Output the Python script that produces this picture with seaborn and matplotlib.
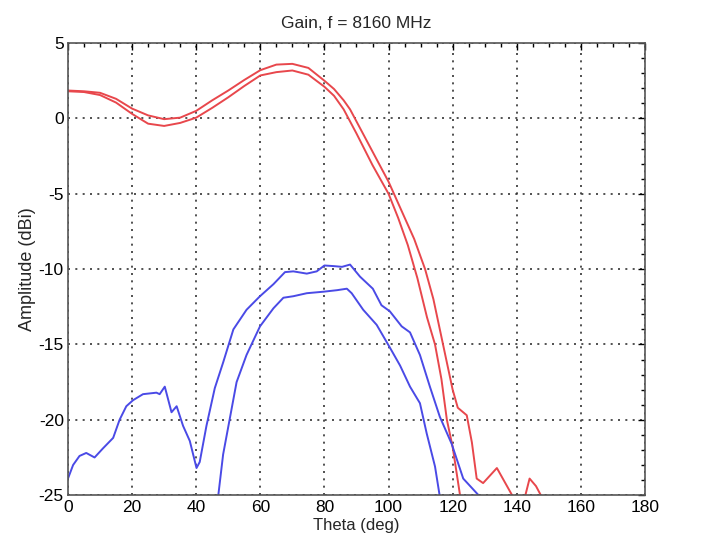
import numpy as np
import pandas as pd
import seaborn as sns
import matplotlib.pyplot as plt
from matplotlib.ticker import MultipleLocator

# red pair (co-pol)
red_hi_theta = [0, 5, 10, 15, 20, 25, 30, 35, 40, 45, 50, 55, 60, 65, 70, 75, 80, 83, 86, 88, 90,
                95, 100, 104, 108, 111.4, 114, 117, 120, 121.6, 124.4, 126, 127.5, 129.5,
                133.8, 138.8, 140, 141.5, 144, 146, 148, 150]
red_hi_db = [1.85, 1.8, 1.7, 1.3, 0.65, 0.2, -0.05, 0.05, 0.5, 1.2, 1.85, 2.55, 3.2, 3.57, 3.62,
             3.35, 2.5, 1.95, 1.2, 0.6, -0.2, -2.2, -4.2, -6.1, -8.0, -10.0, -12.0, -15.0, -18.0,
             -19.2, -19.7, -21.5, -23.9, -24.2, -23.2, -25.1, -26.5, -26.0, -23.9, -24.4, -25.2, -27]
red_lo_theta = [0, 5, 10, 15, 20, 25, 30, 35, 40, 45, 50, 55, 60, 65, 70, 75, 80, 83, 86, 88, 90,
                95, 100, 103, 106, 109, 112, 114.5, 116.5, 118.2, 120, 122.3, 123]
red_lo_db = [1.8, 1.75, 1.55, 1.05, 0.3, -0.35, -0.5, -0.3, 0.05, 0.7, 1.4, 2.15, 2.85, 3.07, 3.18,
             2.9, 2.1, 1.5, 0.6, -0.2, -1.0, -3.1, -5.0, -6.6, -8.4, -10.6, -13.2, -15.0, -17.3,
             -20.0, -21.8, -25.0, -26]

# blue pair (cross-pol)
blue_hi_theta = [0, 1.6, 3.6, 5.7, 8.3, 10.9, 14.1, 16.1, 18.2, 20.3, 23.4, 27.6, 28.6, 30.2,
                 32.3, 33.9, 35.9, 38.0, 40.1, 41.1, 43.2, 45.8, 48.4, 51.6, 55.7, 59.9, 64.1,
                 67.7, 70.3, 74.5, 77.6, 80, 82.8, 85.5, 88.0, 91.1, 95.1, 97.8, 100.4, 104.1,
                 106.7, 109.8, 112.9, 116.0, 119.7, 123.3, 128.5, 130]
blue_hi_db = [-23.9, -23.0, -22.4, -22.2, -22.5, -21.9, -21.2, -20.0, -19.1, -18.7, -18.3, -18.2,
              -18.3, -17.8, -19.5, -19.1, -20.4, -21.4, -23.2, -22.8, -20.4, -17.9, -16.2, -14.0,
              -12.7, -11.8, -11.0, -10.2, -10.15, -10.3, -10.15, -9.76, -9.8, -9.85, -9.7, -10.5,
              -11.3, -12.4, -12.8, -13.8, -14.2, -15.7, -17.8, -19.8, -21.6, -23.9, -25.1, -25.6]
blue_lo_theta = [46.5, 46.9, 48.4, 50.5, 52.6, 55.7, 59.9, 64.1, 67.2, 70.3, 74.5, 79.7, 83.9,
                 87.0, 88.5, 92.1, 96.3, 100.4, 103.6, 106.7, 109.8, 111.9, 114.5, 116.0, 116.5]
blue_lo_db = [-26, -25.0, -22.3, -19.9, -17.5, -15.7, -13.8, -12.6, -11.9, -11.8, -11.6, -11.5,
              -11.4, -11.3, -11.6, -12.7, -13.7, -15.2, -16.4, -17.8, -18.9, -20.9, -23.1,
              -25.1, -26]

x_ticks = [0, 20, 40, 60, 80, 100, 120, 140, 160, 180]
y_ticks = [-25, -20, -15, -10, -5, 0, 5]

sns.set_style("white")
plt.rcParams['font.family'] = ['Liberation Sans', 'DejaVu Sans']
plt.rcParams['axes.unicode_minus'] = False

fig = plt.figure(figsize=(7.08, 5.52), dpi=100)
ax = fig.add_axes([0.096, 0.103, 0.815, 0.819])

red = "#e8474c"
blue = "#4a4ae6"
for th, db, c in [(red_hi_theta, red_hi_db, red), (red_lo_theta, red_lo_db, red),
                  (blue_hi_theta, blue_hi_db, blue), (blue_lo_theta, blue_lo_db, blue)]:
    d = pd.DataFrame({"theta": th, "amp": db})
    sns.lineplot(data=d, x="theta", y="amp", ax=ax, color=c, lw=1.4,
                 sort=False, estimator=None)

ax.set_xlim(0, 180)
ax.set_ylim(-25, 5)
ax.set_xticks(x_ticks)
ax.set_yticks(y_ticks)
ax.xaxis.set_minor_locator(MultipleLocator(5))
ax.yaxis.set_minor_locator(MultipleLocator(1))
ax.tick_params(which="both", direction="in", top=True, right=True, colors="black",
               labelsize=12.5)
ax.tick_params(which="major", length=5, width=1)
ax.tick_params(which="minor", length=3, width=1)
ax.tick_params(axis="y", pad=3)
ax.grid(True, which="major", color="#333333", linestyle=(0, (1.2, 3.2)), lw=1.2)
for s in ax.spines.values():
    s.set_color("#555555")
    s.set_linewidth(1.2)

ax.set_title("Gain, f = 8160 MHz", fontsize=12.5, pad=11)
ax.set_xlabel("Theta (deg)", fontsize=12, labelpad=2)
ax.set_ylabel("Amplitude (dBi)", fontsize=13, labelpad=2)

fig.savefig("out.png", dpi=100)
